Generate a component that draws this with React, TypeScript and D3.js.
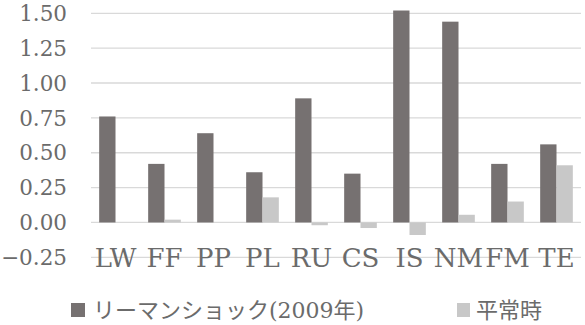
import React from "react";
import * as d3 from "d3";

const categories = ["LW", "FF", "PP", "PL", "RU", "CS", "IS", "NM", "FM", "TE"];
const lehmanValues = [0.76, 0.42, 0.64, 0.36, 0.89, 0.35, 1.52, 1.44, 0.42, 0.56];
const normalValues = [0.0, 0.02, 0.0, 0.18, -0.02, -0.04, -0.09, 0.055, 0.15, 0.41];
const yTicks = [-0.25, 0, 0.25, 0.5, 0.75, 1.0, 1.25, 1.5];
const seriesNames = ["リーマンショック(2009年)", "平常時"];

const W = 585;
const H = 325;
const DARK = "#767171";
const LIGHT = "#c8c8c8";
const GRID = "#d9d9d9";
const TEXT = "#6b6b6b";
const FONT = '"DejaVu Serif", serif';
const FONT_JP = '"DejaVu Serif", "Noto Sans CJK JP", serif';

export default function App() {
  const left = 91;
  const right = 581;
  const y = d3.scaleLinear().domain([-0.25, 1.5]).range([257.3, 13.3]);
  const x0 = d3.scaleBand<string>().domain(categories).range([left, right]).paddingInner(0).paddingOuter(0);
  const bw = x0.bandwidth() / 3;

  return (
    <svg width={W} height={H} style={{ position: "absolute", left: 0, top: 0, background: "#fff" }}>
      {yTicks.map((t) => (
        <g key={t}>
          <line x1={left} x2={right} y1={y(t)} y2={y(t)} stroke={GRID} strokeWidth={1.3} />
          <text x={67} y={y(t)} dy="0.36em" textAnchor="end" style={{ fontFamily: FONT }} fontSize={21.5} fill={TEXT}>
            {d3.format(".2f")(t)}
          </text>
        </g>
      ))}
      {categories.map((c, i) => {
        const cx = (x0(c) as number) + x0.bandwidth() / 2;
        const a = lehmanValues[i];
        const b = normalValues[i];
        return (
          <g key={c}>
            <rect x={cx - bw} width={bw} y={y(Math.max(a, 0))} height={Math.abs(y(a) - y(0))} fill={DARK} />
            <rect x={cx} width={bw} y={y(Math.max(b, 0))} height={Math.abs(y(b) - y(0))} fill={LIGHT} />
            <text x={cx} y={y(-0.25)} dy="0.36em" textAnchor="middle" style={{ fontFamily: FONT }} fontSize={26} fill={TEXT}>
              {c}
            </text>
          </g>
        );
      })}
      <g>
        <rect x={71} y={303} width={14} height={14} fill={DARK} />
        <text x={93} y={310} dy="0.36em" style={{ fontFamily: FONT_JP }} fontSize={22} fill={TEXT}>
          {seriesNames[0]}
        </text>
        <rect x={457} y={303} width={13} height={14} fill={LIGHT} />
        <text x={476} y={310} dy="0.36em" style={{ fontFamily: FONT_JP }} fontSize={22} fill={TEXT}>
          {seriesNames[1]}
        </text>
      </g>
    </svg>
  );
}
